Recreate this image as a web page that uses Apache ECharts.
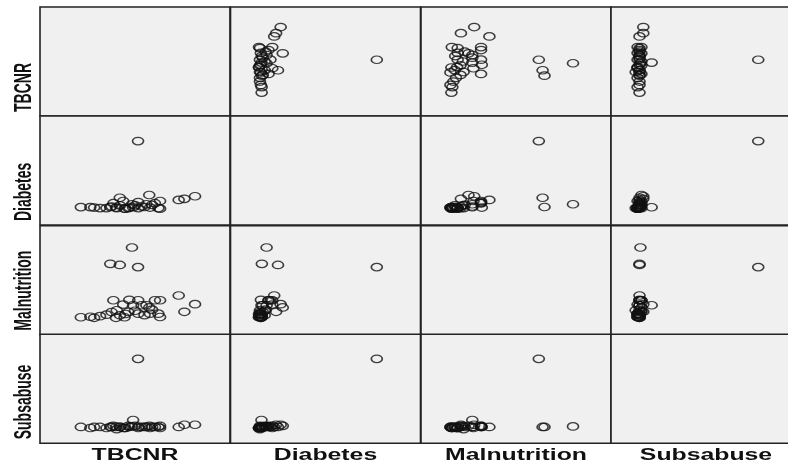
<!DOCTYPE html>
<html>
<head>
<meta charset="utf-8">
<script src="https://cdn.jsdelivr.net/npm/echarts@6/dist/echarts.min.js"></script>
<style>
html,body{margin:0;padding:0;background:#fff;}
#chart{width:788px;height:464px;}
</style>
</head>
<body>
<div id="chart"></div>
<script>
// Variable names (axis titles)
const varNames = ['TBCNR', 'Diabetes', 'Malnutrition', 'Subsabuse'];

const tbcnr        = [51.6, 48.4, 42, 37, 49, 81.6, 76, 73, 21.5, 26.5, 28.5, 35, 37.7, 38.6, 40.4, 42.1, 43.8, 46.5, 51.7, 51.7, 53.5, 56, 57.9, 60.5, 63.2, 62.3, 63.2, 57.5, 47, 45, 55, 50, 31.6, 44.5, 59, 40];
const diabetes     = [77, 19, 25, 16.5, 16.3, 26.4, 24, 23, 16.4, 16.4, 16, 15.5, 17, 20, 15.5, 18, 22, 15.5, 21, 15.5, 17, 19, 16, 20, 22, 15.5, 15, 27.5, 16, 15, 16.5, 18, 15.5, 15, 18.5, 16];
const malnutrition = [62, 80, 64, 65, 27, 28, 21, 36, 16, 16.5, 15.5, 18.4, 20.8, 31.6, 22.4, 17.8, 27.6, 20.8, 31.6, 19.3, 27, 27, 19.3, 31.6, 31.6, 19.3, 16.2, 25, 32, 19, 18, 22, 17, 16, 23, 15.5];
const subsabuse    = [77.5, 15.5, 15, 15, 21.4, 17, 17, 15, 15, 14, 15, 14, 15, 16, 13, 15, 14, 16, 15, 14, 15, 15, 14, 15, 16, 15, 14, 16, 15, 14, 15, 16, 15, 14, 15, 15];

const vars = [tbcnr, diabetes, malnutrition, subsabuse];

const chart = echarts.init(document.getElementById('chart'), null, {renderer: 'canvas'});

const colLefts = [40, 230.5, 421, 611];
const colWidth = 190;
const rowTops = [7, 116, 225.7, 334.3];
const rowHeight = 109;

const grids = [], xAxes = [], yAxes = [], series = [];
const ellipse = 'path://M50,0A50,50,0,1,1,50,100A50,50,0,1,1,50,0Z';
let k = 0;
for (let i = 0; i < 4; i++) {
  for (let j = 0; j < 4; j++) {
    grids.push({
      left: colLefts[j], top: rowTops[i], width: colWidth, height: rowHeight,
      show: true, backgroundColor: '#f0f0f0', borderColor: '#222', borderWidth: 1.6,
      containLabel: false, outerBoundsMode: 'none'
    });
    xAxes.push({gridIndex: k, type: 'value', min: 0, max: 100, show: false, splitLine: {show: false}});
    yAxes.push({gridIndex: k, type: 'value', min: 0, max: 100, show: false, splitLine: {show: false}});
    if (i !== j) {
      const xs = vars[j], ys = vars[i];
      series.push({
        type: 'scatter', xAxisIndex: k, yAxisIndex: k,
        data: xs.map((v, n) => [v, ys[n]]),
        symbol: ellipse, symbolSize: [11, 7.5],
        itemStyle: {color: 'rgba(0,0,0,0)', borderColor: '#111', borderWidth: 1.4},
        silent: true
      });
    }
    k++;
  }
}

const graphics = [];
// bottom labels
for (let j = 0; j < 4; j++) {
  graphics.push({
    type: 'text', x: colLefts[j] + colWidth / 2, y: 456, scaleX: 1.55, scaleY: 1,
    style: {text: varNames[j], font: 'bold 16px "Liberation Sans", Arial, sans-serif', fill: '#111', align: 'center', verticalAlign: 'middle'}
  });
}
// left labels (rotated)
for (let i = 0; i < 4; i++) {
  graphics.push({
    type: 'text', x: 24, y: rowTops[i] + rowHeight - 4, rotation: Math.PI / 2, scaleX: 1, scaleY: 1.77,
    style: {text: varNames[i], font: 'bold 14px "Liberation Sans", Arial, sans-serif', fill: '#111', align: 'left', verticalAlign: 'middle'}
  });
}

chart.setOption({
  animation: false,
  backgroundColor: '#fff',
  grid: grids,
  xAxis: xAxes,
  yAxis: yAxes,
  series: series,
  graphic: graphics
});
</script>
</body>
</html>
